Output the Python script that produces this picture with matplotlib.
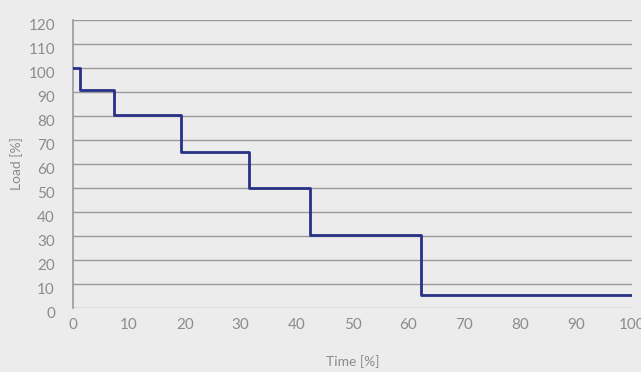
import matplotlib.pyplot as plt
import matplotlib.transforms as mtransforms

# step boundaries (time %) and load level held within each interval
time_edges = [0, 1.3, 7.3, 19.3, 31.4, 42.4, 62.2, 100]
load_levels = [100, 91, 80.5, 65, 50, 30.5, 5.5]
x_ticks = list(range(0, 101, 10))
y_ticks = list(range(0, 121, 10))

plt.rcParams['font.family'] = ['Lato', 'DejaVu Sans']

bg = '#ececec'
grey = '#8c8c8c'

fig = plt.figure(figsize=(6.41, 3.72), dpi=100, facecolor=bg)
ax = fig.add_axes([73 / 641, 1 - 308 / 372, (632 - 73) / 641, (308 - 20) / 372])
ax.set_facecolor(bg)

xs = time_edges
ys = load_levels + [load_levels[-1]]
ax.step(xs, ys, where='post', color='#283185', lw=2.0, zorder=3)

ax.set_xlim(0, 100)
ax.set_ylim(0, 120)
ax.set_xticks(x_ticks)
ax.set_yticks(y_ticks)
ax.grid(axis='y', color='#9a9a9a', lw=1.0)
ax.set_axisbelow(True)
for s in ['top', 'right', 'bottom']:
    ax.spines[s].set_visible(False)
ax.spines['left'].set_color('#9a9a9a')
ax.spines['left'].set_linewidth(1.2)

ax.tick_params(length=0, colors=grey, labelsize=11)
ax.tick_params(axis='y', pad=13)
ax.tick_params(axis='x', pad=7)

# y labels sit a little below their grid lines
off = mtransforms.ScaledTranslation(0, -5 / 100, fig.dpi_scale_trans)
for lab in ax.get_yticklabels():
    lab.set_transform(lab.get_transform() + off)

ax.set_xlabel('Time [%]', color=grey, fontsize=10, labelpad=17)
ax.set_ylabel('Load [%]', color=grey, fontsize=10, labelpad=4)

fig.savefig('out.png', dpi=100, facecolor=bg)
